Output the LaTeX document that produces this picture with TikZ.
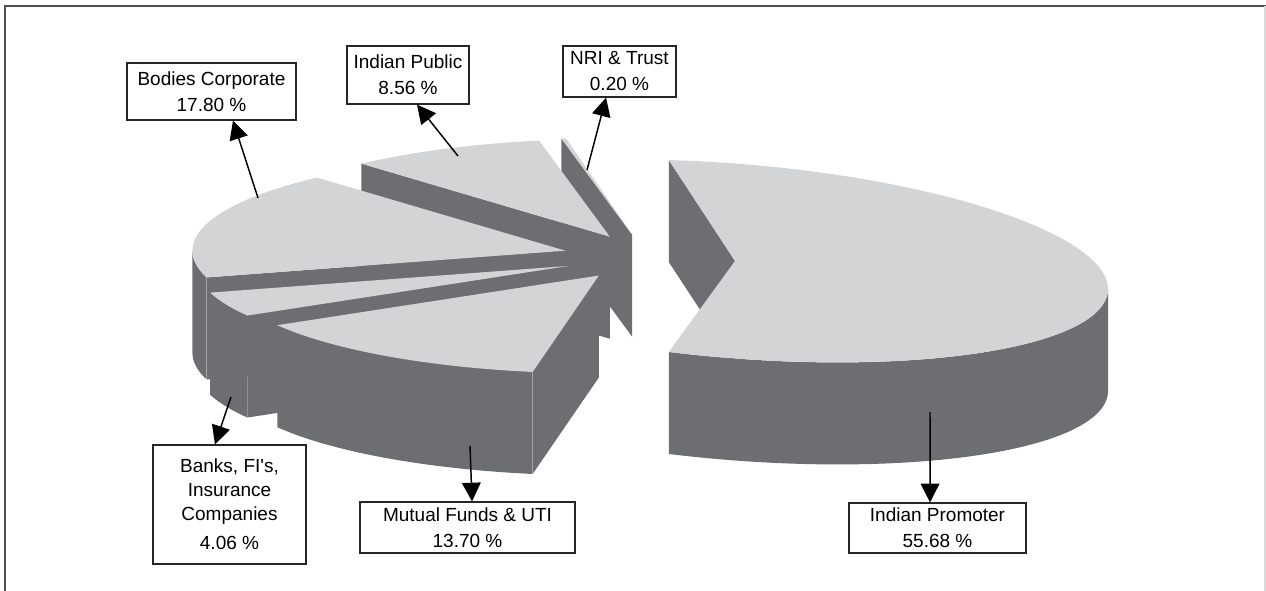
\documentclass[tikz,border=0pt]{standalone}
\usepackage{fontspec}
\setmainfont{Liberation Sans}
\usetikzlibrary{arrows.meta}
\definecolor{pietop}{HTML}{D3D4D6}
\definecolor{pieside}{HTML}{6D6E71}
\definecolor{seam}{HTML}{A4A5A7}
\definecolor{framecol}{HTML}{505050}
% pie geometry (pixel units): radii of the top ellipse and thickness
\def\RX{373}
\def\RY{98}
\def\DP{102}
% slant of the large slice's top ellipse
\def\SY{28}
\tikzset{
  labelbox/.style={draw=black!85, line width=0.9pt, fill=white, align=center,
    inner sep=0pt, font=\fontsize{14.25pt}{19.5pt}\selectfont},
  callout/.style={-{Triangle[length=14pt,width=14pt]}, line width=1.1pt, black},
  seamline/.style={draw=seam, line width=0.5pt},
}
\begin{document}
\begin{tikzpicture}[x=0.75pt,y=-0.75pt]
\useasboundingbox (0,0) rectangle (1266,591);
% frame
\draw[framecol, line width=1.3pt] (5,591) -- (5,6) -- (1266,6);
\draw[black!15, line width=0.8pt] (1265,6) -- (1265,591);

% exploded slice apexes
\coordinate (cP)  at (735,261);
\coordinate (cN)  at ({648+86*cos(100.584)},{257-22.6*sin(100.584)});
\coordinate (cI)  at ({648+86*cos(116.352)},{257-22.6*sin(116.352)});
\coordinate (cB)  at ({648+86*cos(163.8)},{257-22.6*sin(163.8)});
\coordinate (cK)  at ({648+86*cos(203.148)},{257-22.6*sin(203.148)});
\coordinate (cM)  at ({648+86*cos(235.116)},{257-22.6*sin(235.116)});

% Indian Promoter slice
\begin{scope}[shift={(cP)}]
  \fill[pieside] (0,0) -- ({\RX*cos(100.224)},{\SY*cos(100.224)-97.5*sin(100.224)}) -- ++(0,\DP) -- (0,\DP) -- cycle;
  \fill[pieside] plot[domain=-100.224:0,samples=60] ({\RX*cos(\x)},{\SY*cos(\x)-97.5*sin(\x)})
     -- plot[domain=0:-100.224,samples=60] ({\RX*cos(\x)},{\DP+\SY*cos(\x)-97.5*sin(\x)}) -- cycle;
  \fill[pietop] (0,0) -- plot[domain=-100.224:100.224,samples=120] ({\RX*cos(\x)},{\SY*cos(\x)-97.5*sin(\x)}) -- cycle;
\end{scope}

% NRI & Trust slice
\begin{scope}[shift={(cN)}]
  \fill[pieside] (0,0) -- ({\RX*cos(100.944)},{-\RY*sin(100.944)}) -- ++(0,\DP) -- (0,\DP) -- cycle;
  \fill[pietop] (0,0) -- plot[domain=100.224:100.944,samples=3] ({\RX*cos(\x)},{-\RY*sin(\x)}) -- cycle;
\end{scope}

% Indian Public slice
\begin{scope}[shift={(cI)}]
  \fill[pieside] (0,0) -- ({\RX*cos(131.76)},{-\RY*sin(131.76)}) -- ++(0,\DP) -- (0,\DP) -- cycle;
  \fill[pietop] (0,0) -- plot[domain=100.944:131.76,samples=30] ({\RX*cos(\x)},{-\RY*sin(\x)}) -- cycle;
\end{scope}

% Bodies Corporate slice
\begin{scope}[shift={(cB)}]
  \fill[pieside] (0,0) -- ({\RX*cos(195.84)},{-\RY*sin(195.84)}) -- ++(0,\DP) -- (0,\DP) -- cycle;
  \fill[pieside] plot[domain=180:195.84,samples=20] ({\RX*cos(\x)},{-\RY*sin(\x)})
     -- plot[domain=195.84:180,samples=20] ({\RX*cos(\x)},{\DP-\RY*sin(\x)}) -- cycle;
  \fill[pietop] (0,0) -- plot[domain=131.76:195.84,samples=60] ({\RX*cos(\x)},{-\RY*sin(\x)}) -- cycle;
  \draw[seamline] ({\RX*cos(195.84)},{-\RY*sin(195.84)}) -- ++(0,\DP);
\end{scope}

% Banks, FI's, Insurance Companies slice
\begin{scope}[shift={(cK)}]
  \fill[pieside] (0,0) -- ({\RX*cos(210.456)},{-\RY*sin(210.456)}) -- ++(0,\DP) -- (0,\DP) -- cycle;
  \fill[pieside] plot[domain=195.84:210.456,samples=20] ({\RX*cos(\x)},{-\RY*sin(\x)})
     -- plot[domain=210.456:195.84,samples=20] ({\RX*cos(\x)},{\DP-\RY*sin(\x)}) -- cycle;
  \fill[pietop] (0,0) -- plot[domain=195.84:210.456,samples=20] ({\RX*cos(\x)},{-\RY*sin(\x)}) -- cycle;
\end{scope}

% Mutual Funds & UTI slice
\begin{scope}[shift={(cM)}]
  \fill[pieside] (0,0) -- ({\RX*cos(259.776)},{-\RY*sin(259.776)}) -- ++(0,\DP) -- (0,\DP) -- cycle;
  \fill[pieside] plot[domain=210.456:259.776,samples=50] ({\RX*cos(\x)},{-\RY*sin(\x)})
     -- plot[domain=259.776:210.456,samples=50] ({\RX*cos(\x)},{\DP-\RY*sin(\x)}) -- cycle;
  \fill[pietop] (0,0) -- plot[domain=210.456:259.776,samples=50] ({\RX*cos(\x)},{-\RY*sin(\x)}) -- cycle;
  \draw[seamline] ({\RX*cos(259.776)},{-\RY*sin(259.776)}) -- ++(0,\DP);
\end{scope}

% label boxes
\node[labelbox, minimum width=126.75pt, minimum height=42.75pt] (lbB) at (211.5,91.5) {Bodies Corporate\\17.80 \%};
\node[labelbox, minimum width=91.5pt, minimum height=43.5pt] (lbI) at (408,75) {Indian Public\\8.56 \%};
\node[labelbox, minimum width=84.75pt, minimum height=38.25pt] (lbN) at (619.5,71.5) {NRI \& Trust\\0.20 \%};
\node[labelbox, minimum width=114.75pt, minimum height=89.25pt,
      font=\fontsize{14.25pt}{18pt}\selectfont] (lbK) at (229.5,504.5)
      {Banks, FI\textquotesingle s,\\Insurance\\Companies\\[4pt]4.06 \%};
\node[labelbox, minimum width=161.25pt, minimum height=38.25pt] (lbM) at (467.5,527.5) {Mutual Funds \& UTI\\13.70 \%};
\node[labelbox, minimum width=132.75pt, minimum height=37.5pt] (lbP) at (937.5,528) {Indian Promoter\\55.68 \%};

% callout origins on the slices
\coordinate (sB) at (258,198);
\coordinate (sI) at (458,156);
\coordinate (sN) at (587,170);
\coordinate (sK) at (231,397);
\coordinate (sM) at (470,446);
\coordinate (sP) at (930,412);

\draw[callout] (sB) -- ([xshift=16.1pt]lbB.south);
\draw[callout] (sI) -- ([xshift=6.75pt]lbI.south);
\draw[callout] (sN) -- ([xshift=-10.1pt]lbN.south);
\draw[callout] (sK) -- ([xshift=-10.9pt]lbK.north);
\draw[callout] (sM) -- ([xshift=3.4pt]lbM.north);
\draw[callout] (sP) -- ([xshift=-5.6pt]lbP.north);
\end{tikzpicture}
\end{document}
